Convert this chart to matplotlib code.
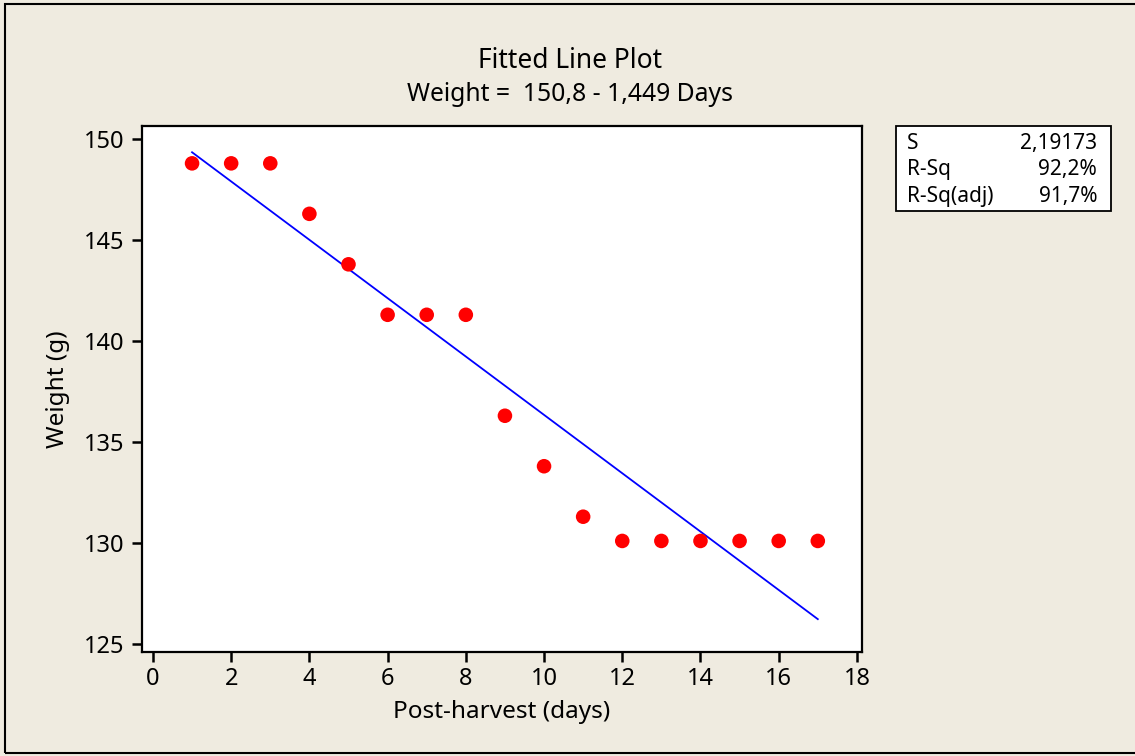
import numpy as np
import matplotlib
matplotlib.use("Agg")
import matplotlib.pyplot as plt
from matplotlib.patches import Rectangle

days = [1, 2, 3, 4, 5, 6, 7, 8, 9, 10, 11, 12, 13, 14, 15, 16, 17]
weight = [148.8, 148.8, 148.8, 146.3, 143.8, 141.3, 141.3, 141.3, 136.3,
          133.8, 131.3, 130.1, 130.1, 130.1, 130.1, 130.1, 130.1]
x_ticks = [0, 2, 4, 6, 8, 10, 12, 14, 16, 18]
y_ticks = [125, 130, 135, 140, 145, 150]
stat_labels = ["S", "R-Sq", "R-Sq(adj)"]
stat_values = ["2,19173", "92,2%", "91,7%"]
title = "Fitted Line Plot"
subtitle = "Weight =  150,8 - 1,449 Days"

plt.rcParams['font.family'] = ['Noto Sans', 'DejaVu Sans']
bg = '#EFEBE0'
W, H = 1135, 756
fig = plt.figure(figsize=(W / 100, H / 100), dpi=100, facecolor=bg)

ax = fig.add_axes([142 / W, 1 - 652 / H, (862 - 142) / W, (652 - 126) / H])
ax.set_facecolor('white')

coef = np.polyfit(days, weight, 1)
xs = np.array(days, dtype=float)
ax.plot(xs, np.polyval(coef, xs), color='#0000FF', lw=1.3, zorder=2)
ax.scatter(days, weight, s=110, color='#FF0000', edgecolors='none', zorder=3)

ax.set_xlim(-0.28, 18.13)
ax.set_ylim(124.6, 150.65)
ax.set_xticks(x_ticks)
ax.set_yticks(y_ticks)
ax.tick_params(direction='out', length=7, width=1.8, labelsize=17, pad=4)
ax.tick_params(axis='y', pad=6)
for s in ax.spines.values():
    s.set_linewidth(1.6)
ax.set_xlabel("Post-harvest (days)", fontsize=17.5, labelpad=6)
ax.set_ylabel("Weight (g)", fontsize=17.5, labelpad=10)

fig.text(570 / W, 1 - 68 / H, title, ha='center', va='baseline', fontsize=19)
fig.text(570 / W, 1 - 101 / H, subtitle, ha='center', va='baseline', fontsize=17.8)

# stats box
bx0, by0, bx1, by1 = 896, 126, 1111, 211
fig.patches.append(Rectangle((bx0 / W, 1 - by1 / H), (bx1 - bx0) / W, (by1 - by0) / H,
                             transform=fig.transFigure, facecolor='white',
                             edgecolor='black', lw=1.3))
for i, (lab, val) in enumerate(zip(stat_labels, stat_values)):
    yy = 1 - (149 + i * 26.5) / H
    fig.text(907 / W, yy, lab, ha='left', va='baseline', fontsize=15)
    fig.text(1097 / W, yy, val, ha='right', va='baseline', fontsize=15)

# outer frame
fig.patches.append(Rectangle((5 / W, 3 / H), 1.2, 1 - 7 / H,
                             transform=fig.transFigure, facecolor='none',
                             edgecolor='black', lw=1.5, clip_on=False))

fig.savefig("out.png", dpi=100, facecolor=bg)
